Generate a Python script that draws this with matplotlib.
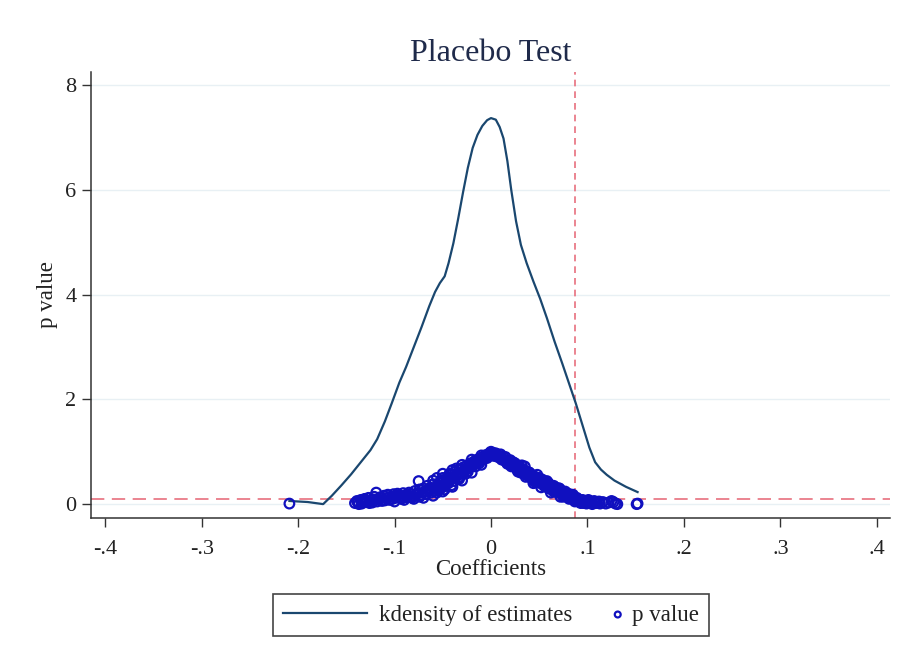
import matplotlib
matplotlib.use("Agg")
import matplotlib.pyplot as plt
from matplotlib.legend_handler import HandlerPathCollection
import numpy as np

plt.rcParams['font.family'] = ['Liberation Serif', 'DejaVu Serif']

# ---------------- data ----------------
title = "Placebo Test"
xlabel = "Coefficients"
ylabel = "p value"
xticks = [-0.4, -0.3, -0.2, -0.1, 0.0, 0.1, 0.2, 0.3, 0.4]
xticklabels = ["-.4", "-.3", "-.2", "-.1", "0", ".1", ".2", ".3", ".4"]
yticks = [0, 2, 4, 6, 8]
yticklabels = ["0", "2", "4", "6", "8"]

# kernel density of placebo estimates
kd_x = [-0.209, -0.19, -0.174, -0.165, -0.155, -0.145, -0.135, -0.125, -0.118,
        -0.11, -0.103, -0.095, -0.088, -0.08, -0.072, -0.064, -0.058, -0.053,
        -0.048, -0.044, -0.039, -0.034, -0.029, -0.024, -0.019, -0.014, -0.009,
        -0.004, 0.0, 0.005, 0.009, 0.013, 0.017, 0.021, 0.026, 0.031, 0.037,
        0.044, 0.051, 0.058, 0.066, 0.074, 0.081, 0.088, 0.095, 0.102, 0.108,
        0.114, 0.12, 0.128, 0.14, 0.152]
kd_y = [0.06, 0.04, 0.0, 0.16, 0.36, 0.57, 0.8, 1.03, 1.24,
        1.58, 1.92, 2.32, 2.62, 3.0, 3.38, 3.78, 4.05, 4.22,
        4.35, 4.6, 4.98, 5.45, 5.95, 6.42, 6.8, 7.05, 7.22,
        7.33, 7.37, 7.34, 7.2, 6.98, 6.55, 6.0, 5.4, 4.95, 4.6,
        4.25, 3.92, 3.55, 3.1, 2.68, 2.3, 1.92, 1.5, 1.08, 0.8,
        0.66, 0.56, 0.45, 0.33, 0.23]

# placebo coefficients and p values
coef = [-0.209,
        -0.141, -0.139, -0.137, -0.135, -0.133, -0.131, -0.129, -0.127, -0.125,
        -0.123, -0.121, -0.119, -0.117, -0.115, -0.113, -0.111, -0.109, -0.107,
        -0.105, -0.103, -0.101, -0.099, -0.097, -0.095, -0.093, -0.091, -0.089,
        -0.087, -0.085, -0.083, -0.081, -0.079, -0.077, -0.075, -0.074, -0.072,
        -0.070, -0.068, -0.066, -0.064, -0.062, -0.060, -0.058, -0.056, -0.055,
        -0.053, -0.051, -0.049, -0.047, -0.045, -0.043, -0.041, -0.039, -0.037,
        -0.035, -0.033, -0.031, -0.029, -0.027, -0.025, -0.023, -0.021, -0.019,
        -0.017, -0.015, -0.013, -0.011, -0.009, -0.007, -0.005, -0.003, -0.001,
        -0.100, -0.090, -0.080, -0.070, -0.060, -0.050, -0.040, -0.030, -0.020,
        -0.010, -0.060, -0.050, -0.040, -0.030, -0.020, -0.010, -0.045, -0.035,
        -0.025, -0.015, -0.065, -0.055,
        -0.138, -0.134, -0.130, -0.126, -0.122, -0.118, -0.114, -0.110, -0.106,
        -0.102, -0.098, -0.094, -0.090, -0.086, -0.082, -0.078, -0.074, -0.071,
        -0.067, -0.063, -0.059, -0.057, -0.054, -0.052, -0.048, -0.046, -0.044,
        -0.042, -0.038, -0.036, -0.034, -0.032, -0.028, -0.026, -0.024, -0.022,
        -0.018, -0.016, -0.014, -0.012, -0.008, -0.006, -0.004, -0.002,
        0.000, 0.002, 0.004, 0.006, 0.008, 0.010, 0.012, 0.014, 0.016, 0.018,
        0.020, 0.022, 0.024, 0.026, 0.028, 0.030, 0.032, 0.034, 0.036, 0.038,
        0.040, 0.042, 0.044, 0.046, 0.048, 0.050, 0.052, 0.054, 0.056, 0.058,
        0.060, 0.062, 0.064, 0.066, 0.068, 0.070, 0.072, 0.074, 0.076, 0.078,
        0.080, 0.082, 0.084, 0.086, 0.088, 0.090, 0.092, 0.094, 0.096, 0.098,
        0.101, 0.104, 0.107, 0.110, 0.113, 0.116, 0.119, 0.122, 0.125, 0.127,
        0.129, 0.131, 0.151, 0.152,
        0.010, 0.020, 0.030, 0.040, 0.050, 0.060, 0.070, 0.080, 0.085, 0.075,
        0.065, 0.055, 0.045, 0.035, 0.025, 0.015, 0.005,
        0.001, 0.003, 0.005, 0.007, 0.009, 0.011, 0.013, 0.015, 0.017, 0.019,
        0.021, 0.023, 0.025, 0.027, 0.029, 0.031, 0.033, 0.035, 0.037, 0.039,
        0.041, 0.043, 0.045, 0.047, 0.049, 0.051, 0.053, 0.055, 0.057, 0.059,
        0.061, 0.063, 0.065, 0.067, 0.069, 0.071, 0.073, 0.075, 0.077, 0.079,
        0.081, 0.083, 0.085, 0.087, 0.089, 0.091, 0.093, 0.095, 0.097, 0.099,
        0.102, 0.105, 0.108, 0.112,
        -0.056, -0.048, -0.041, -0.033, -0.026, -0.050, -0.043, -0.036,
        0.028, 0.036, 0.044, 0.052, 0.062, 0.072, 0.032, 0.048, 0.058]
pval = [0.01,
        0.02, 0.06, 0.00, 0.08, 0.04, 0.10, 0.05, 0.12, 0.07,
        0.03, 0.14, 0.22, 0.09, 0.13, 0.06, 0.16, 0.11, 0.18,
        0.08, 0.14, 0.19, 0.12, 0.20, 0.15, 0.10, 0.21, 0.17,
        0.13, 0.22, 0.19, 0.15, 0.25, 0.20, 0.44, 0.28, 0.18,
        0.30, 0.24, 0.35, 0.30, 0.22, 0.38, 0.32, 0.50, 0.27,
        0.42, 0.36, 0.46, 0.40, 0.52, 0.44, 0.56, 0.50, 0.62,
        0.54, 0.66, 0.60, 0.70, 0.64, 0.74, 0.69, 0.78, 0.73,
        0.82, 0.78, 0.86, 0.83, 0.90, 0.88, 0.94, 0.93, 0.98,
        0.05, 0.08, 0.10, 0.12, 0.16, 0.24, 0.33, 0.45, 0.60,
        0.75, 0.45, 0.58, 0.65, 0.75, 0.85, 0.93, 0.48, 0.58,
        0.68, 0.84, 0.28, 0.36,
        0.03, 0.01, 0.07, 0.02, 0.09, 0.05, 0.11, 0.07, 0.13,
        0.10, 0.16, 0.12, 0.14, 0.17, 0.12, 0.18, 0.14, 0.22,
        0.19, 0.27, 0.25, 0.30, 0.34, 0.30, 0.34, 0.44, 0.40,
        0.48, 0.44, 0.56, 0.50, 0.58, 0.62, 0.66, 0.62, 0.72,
        0.76, 0.72, 0.80, 0.78, 0.86, 0.90, 0.88, 0.95,
        1.00, 0.98, 0.95, 0.92, 0.93, 0.88, 0.86, 0.84, 0.80, 0.82,
        0.77, 0.74, 0.76, 0.70, 0.68, 0.70, 0.64, 0.60, 0.63, 0.57,
        0.54, 0.56, 0.50, 0.48, 0.50, 0.44, 0.42, 0.45, 0.38, 0.36,
        0.39, 0.32, 0.30, 0.33, 0.26, 0.24, 0.27, 0.20, 0.18, 0.21,
        0.14, 0.12, 0.15, 0.09, 0.07, 0.10, 0.04, 0.06, 0.02, 0.05,
        0.08, 0.03, 0.06, 0.02, 0.01, 0.04, 0.01, 0.03, 0.06, 0.04,
        0.01, 0.00, 0.00, 0.01,
        0.95, 0.84, 0.62, 0.60, 0.50, 0.30, 0.30, 0.20, 0.18, 0.14,
        0.24, 0.35, 0.43, 0.72, 0.78, 0.90, 0.97,
        0.96, 0.92, 0.96, 0.90, 0.91, 0.85, 0.90, 0.83, 0.77, 0.79,
        0.72, 0.80, 0.72, 0.66, 0.73, 0.60, 0.67, 0.58, 0.55, 0.61,
        0.52, 0.47, 0.53, 0.44, 0.46, 0.40, 0.47, 0.40, 0.33, 0.41,
        0.35, 0.28, 0.35, 0.29, 0.22, 0.30, 0.23, 0.17, 0.24, 0.16,
        0.10, 0.18, 0.11, 0.05, 0.12, 0.07, 0.02, 0.08, 0.03, 0.01,
        0.05, 0.00, 0.03, 0.05,
        0.22, 0.28, 0.36, 0.48, 0.58, 0.50, 0.58, 0.68,
        0.62, 0.52, 0.40, 0.32, 0.22, 0.14, 0.74, 0.56, 0.44]

true_coef = 0.087   # vertical reference line
p_threshold = 0.1   # horizontal reference line

legend_labels = ["kdensity of estimates", "p value"]

# ---------------- styling ----------------
W, H = 903, 661
fig = plt.figure(figsize=(W / 100, H / 100), dpi=100)
ax = fig.add_axes([91 / W, 1 - 518 / H, (890 - 91) / W, (518 - 72) / H])

line_col = '#1a476f'
pt_col = '#1010bf'
ref_col = '#e8707e'

ax.set_xlim(-0.4147, 0.4137)
ax.set_ylim(-0.265, 8.25)

for yv in yticks:
    ax.axhline(yv, color='#e8f0f4', lw=1.0, zorder=0)

kd_line, = ax.plot(kd_x, kd_y, color=line_col, lw=1.6, zorder=3,
                   solid_joinstyle='round')
sc = ax.scatter(coef, pval, s=48, facecolors='none', edgecolors=pt_col,
                linewidths=1.6, zorder=4)

ax.axvline(true_coef, color=ref_col, lw=1.2, dashes=(4, 3), zorder=2)
ax.axhline(p_threshold, color=ref_col, lw=1.2, dashes=(8, 4.5), zorder=2)

for s in ['top', 'right']:
    ax.spines[s].set_visible(False)
for s in ['left', 'bottom']:
    ax.spines[s].set_color('#333333')
    ax.spines[s].set_linewidth(1.1)

ax.set_xticks(xticks)
ax.set_xticklabels(xticklabels)
ax.set_yticks(yticks)
ax.set_yticklabels(yticklabels)
ax.tick_params(axis='both', direction='out', length=6.5, width=1.0,
               color='#333333', labelsize=16, labelcolor='#222222')
ax.tick_params(axis='x', pad=9)
ax.tick_params(axis='y', pad=4)

ax.set_title(title, fontsize=23, color='#1f2a4a', pad=8)
ax.set_xlabel(xlabel, fontsize=16.5, color='#222222', labelpad=0)
ax.set_ylabel(ylabel, fontsize=16.5, color='#222222', labelpad=5)


class RightMarkerHandler(HandlerPathCollection):
    def get_xdata(self, legend, xdescent, ydescent, width, height, fontsize):
        return ([-xdescent, -xdescent + width],
                [-xdescent + width - 0.1 * fontsize])


leg = fig.legend([kd_line, sc], legend_labels, loc='center',
                 bbox_to_anchor=(491 / W, 1 - 615 / H), ncol=2,
                 fontsize=16.5, frameon=True, fancybox=False, shadow=False,
                 framealpha=1, edgecolor='#444444', handlelength=3.67,
                 handletextpad=0.52, columnspacing=-1.6, borderpad=0.45,
                 scatterpoints=1,
                 handler_map={sc: RightMarkerHandler(sizes=[18])})
leg.get_frame().set_linewidth(1.2)
for t in leg.get_texts():
    t.set_color('#222222')

fig.savefig('out.png', dpi=100)
